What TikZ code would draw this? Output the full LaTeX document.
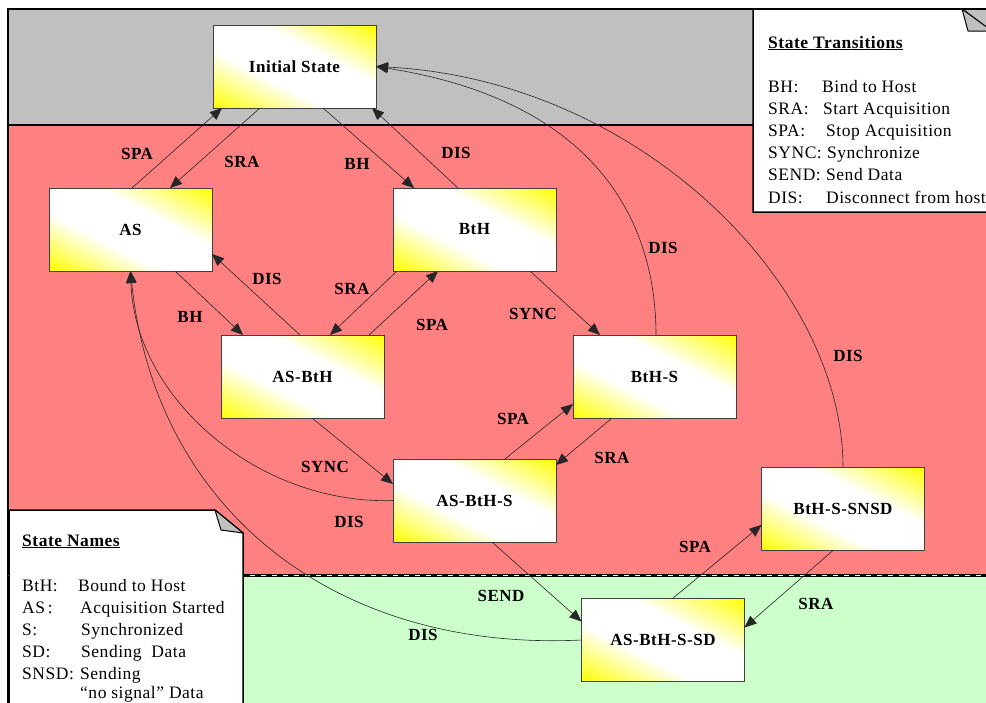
\documentclass[tikz,border=0pt]{standalone}
\usepackage{fontspec}
\setmainfont[LetterSpace=3]{Liberation Serif}
\usetikzlibrary{arrows.meta}

\definecolor{topgray}{RGB}{192,192,192}
\definecolor{midred}{RGB}{255,128,128}
\definecolor{lowgreen}{RGB}{204,255,204}
\definecolor{foldgray}{RGB}{192,192,192}

% white along the top-left/bottom-right diagonal, yellow towards the other two corners
\pgfdeclarefunctionalshading{statefill}{\pgfpoint{-50bp}{-50bp}}{\pgfpoint{50bp}{50bp}}{}{
  add abs 50 div 0.3 sub 0.7 div
  dup 0 lt {pop 0} if
  dup 1 gt {pop 1} if
  1 exch sub 1 1 3 -1 roll
}

\begin{document}
\begin{tikzpicture}[x=1pt,y=-1pt,
  state/.style={draw=black!75, line width=0.8pt, shade, shading=statefill,
    minimum width=163pt, minimum height=83pt, inner sep=0pt, outer sep=0pt,
    font=\fontsize{17}{20}\selectfont\bfseries},
  trans/.style={draw=black!85, line width=0.6pt, -{Triangle[length=12pt,width=10pt]}},
  lbl/.style={font=\fontsize{17}{20}\selectfont\bfseries, inner sep=0pt},
  legend/.style={font=\fontsize{17.5}{20}\selectfont, inner sep=0pt, anchor=base west},
  notebox/.style={fill=white, draw=black, line width=1.5pt, line join=miter},
  fold/.style={fill=foldgray, draw=black, line width=1pt, line join=round},
]
\useasboundingbox (0,0) rectangle (986,702);

% bands
\fill[topgray] (8,9) rectangle (990,125);
\fill[midred] (8,125) rectangle (990,575);
\fill[lowgreen] (8,575) rectangle (990,710);
\draw[line width=1.2pt] (8,710) -- (8,9) -- (990,9);
\draw[line width=1.5pt] (8,125) -- (990,125);
\draw[line width=3pt] (8,575) -- (990,575);
\draw[white, line width=1pt, dash pattern=on 5pt off 6pt] (8,575) -- (990,575);

% states
\node[state] (init)   at (294.5,66.5)  {Initial State};
\node[state] (as)     at (130.5,229.5) {AS};
\node[state] (bth)    at (474.5,229.5) {BtH};
\node[state] (asbth)  at (302.5,376.5) {AS-BtH};
\node[state] (bths)   at (654.5,376.5) {BtH-S};
\node[state] (asbths) at (474.5,500.5) {AS-BtH-S};
\node[state] (snsd)   at (843,508.5)   {BtH-S-SNSD};
\node[state] (sd)     at (663,640)     {AS-BtH-S-SD};

% transitions
\draw[trans] ([xshift=1.5pt]as.north) -- ([xshift=9pt]init.south west);
\draw[trans] ([xshift=47pt]init.south west) -- ([xshift=-42pt]as.north east);
\draw[trans] ([xshift=110pt]init.south west) -- ([xshift=21pt]bth.north west);
\draw[trans] ([xshift=65pt]bth.north west) -- ([xshift=-4pt]init.south east);
\draw[trans] ([xshift=126pt]as.south west) -- ([xshift=22pt]asbth.north west);
\draw[trans] ([xshift=79pt]asbth.north west) -- ([yshift=17pt]as.south east);
\draw[trans] ([xshift=4pt]bth.south west) -- ([xshift=109pt]asbth.north west);
\draw[trans] ([xshift=148pt]asbth.north west) -- ([xshift=45pt]bth.south west);
\draw[trans] ([xshift=137pt]bth.south west) -- ([xshift=27pt]bths.north west);
\draw[trans] ([xshift=1.5pt]bths.north) .. controls (656,215) and (590,100) .. (init.east);
\draw[trans] (snsd.north) .. controls (843,285) and (640,80) .. (init.east);
\draw[trans] ([xshift=112pt]asbths.north west) -- ([yshift=14pt]bths.south west);
\draw[trans] ([xshift=39pt]bths.south west) -- ([yshift=-6pt]asbths.north east);
\draw[trans] ([xshift=91pt]asbth.south west) -- ([yshift=-25pt]asbths.north west);
\draw[trans] (asbths.west) .. controls (260,505) and (135,400) .. (as.south);
\draw[trans] (sd.west) .. controls (335,652) and (155,510) .. (as.south);
\draw[trans] ([xshift=99pt]asbths.south west) -- ([yshift=-23pt]sd.north west);
\draw[trans] ([xshift=91pt]sd.north west) -- ([yshift=25pt]snsd.south west);
\draw[trans] ([xshift=72pt]snsd.south west) -- ([yshift=-29pt]sd.north east);

% transition labels
\node[lbl] (l1)  at (137,154) {SPA};
\node[lbl] (l2)  at (242,162) {SRA};
\node[lbl] (l3)  at (357,164) {BH};
\node[lbl] (l4)  at (456,153) {DIS};
\node[lbl] (l5)  at (190,317) {BH};
\node[lbl] (l6)  at (267,279) {DIS};
\node[lbl] (l7)  at (352,289) {SRA};
\node[lbl] (l8)  at (432,325) {SPA};
\node[lbl] (l9)  at (533,314) {SYNC};
\node[lbl] (l10) at (663,248) {DIS};
\node[lbl] (l11) at (848,356) {DIS};
\node[lbl] (l12) at (513,419) {SPA};
\node[lbl] (l13) at (612,458) {SRA};
\node[lbl] (l14) at (325,467) {SYNC};
\node[lbl] (l15) at (349,522) {DIS};
\node[lbl] (l16) at (423,635) {DIS};
\node[lbl] (l17) at (501,596) {SEND};
\node[lbl] (l18) at (695,547) {SPA};
\node[lbl] (l19) at (816,604) {SRA};

% note: transitions legend
\draw[notebox] (753,9) -- (962,9) -- (992,32) -- (992,212) -- (753,212) -- cycle;
\draw[fold] (962,9) -- (968,31) -- (992,31) -- cycle;
\node[legend] (tt)  at (768,48) {\underline{\textbf{State Transitions}}};
\node[legend] (t1a) at (768,92)    {BH:};   \node[legend] (t1b) at (822,92)    {Bind to Host};
\node[legend] (t2a) at (768,114.2) {SRA:};  \node[legend] (t2b) at (823,114.2) {Start Acquisition};
\node[legend] (t3a) at (768,136.4) {SPA:};  \node[legend] (t3b) at (826,136.4) {Stop Acquisition};
\node[legend] (t4a) at (768,158.6) {SYNC:}; \node[legend] (t4b) at (827,158.6) {Synchronize};
\node[legend] (t5a) at (768,180.8) {SEND:}; \node[legend] (t5b) at (826,180.8) {Send Data};
\node[legend] (t6a) at (768,203)   {DIS:};  \node[legend] (t6b) at (826,203)   {Disconnect from host};

% note: state names legend
\draw[notebox] (9,510) -- (215,510) -- (243,533) -- (243,712) -- (9,712) -- cycle;
\draw[fold] (215,510) -- (221,530) -- (243,533) -- cycle;
\node[legend] (nt)  at (22,546) {\underline{\textbf{State Names}}};
\node[legend] (n1a) at (22,591) {BtH:};  \node[legend] (n1b) at (78,591) {Bound to Host};
\node[legend] (n2a) at (22,613) {AS\,:}; \node[legend] (n2b) at (80,613) {Acquisition Started};
\node[legend] (n3a) at (22,635) {S:};    \node[legend] (n3b) at (81,635) {Synchronized};
\node[legend] (n4a) at (22,657) {SD:};   \node[legend] (n4b) at (81,657) {Sending\ \ Data};
\node[legend] (n5a) at (22,679) {SNSD:}; \node[legend] (n5b) at (80,679) {Sending};
\node[legend] (n6b) at (80,698.5) {“no signal” Data};
\end{tikzpicture}
\end{document}
